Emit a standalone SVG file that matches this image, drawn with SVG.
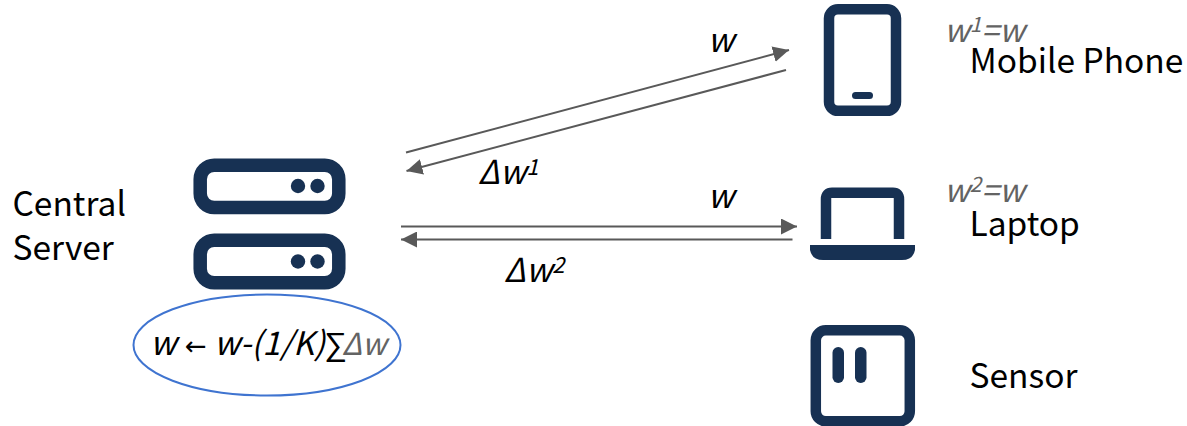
<svg xmlns="http://www.w3.org/2000/svg" width="1187" height="426" viewBox="0 0 1187 426">
<style>
text{font-family:"Noto Sans CJK SC","Noto Sans",sans-serif}
.l{font-size:33.500px;fill:#000}
.m{font-size:33px;font-style:italic;fill:#000}
.g{font-size:32px;font-style:italic;fill:#636363}
.i{fill:none;stroke:#173153;stroke-width:10.500}
.f{fill:#173153}
.s{fill:none;stroke:#173153;stroke-width:13.500}
.c{fill:none;stroke:#595959;stroke-width:2;marker-end:url(#a)}
</style>
<defs><marker id="a" markerUnits="userSpaceOnUse" markerWidth="17" markerHeight="16" refX="16" refY="8" orient="auto"><path d="M0 0L16 8L0 16Z" fill="#595959"/></marker></defs>
<rect width="1187" height="426" fill="#fff"/>
<g id="connectors">
<line class="c" x1="406" y1="152.500" x2="789" y2="50"/>
<line class="c" x1="786" y1="70" x2="406.500" y2="171"/>
<line class="c" x1="401" y1="226.500" x2="797" y2="226.500"/>
<line class="c" x1="792.500" y1="239.500" x2="401" y2="239.500"/>
</g>
<g id="server">
<rect class="s" x="200.200" y="165.200" width="138.600" height="42.400" rx="14"/>
<circle class="f" cx="298" cy="186" r="7.200"/><circle class="f" cx="317.500" cy="186" r="7.200"/>
<rect class="s" x="200.200" y="240.200" width="138.600" height="42.600" rx="14"/>
<circle class="f" cx="298" cy="261.500" r="7.200"/><circle class="f" cx="317.500" cy="261.500" r="7.200"/>
<text class="l" x="12.500" y="216">Central</text>
<text class="l" x="12.500" y="260">Server</text>
</g>
<g id="aggregate">
<ellipse cx="267" cy="345" rx="133.500" ry="50.500" fill="none" stroke="#3f74d0" stroke-width="2"/>
<text x="150" y="355" style="font-size:33px;font-style:italic">w</text>
<text x="185" y="355" style="font-family:'DejaVu Sans',sans-serif;font-size:26px">←</text>
<text x="214" y="355" style="font-size:32.500px;font-style:italic">w-(1/K)</text>
<text x="324" y="355" style="font-family:'Liberation Sans',sans-serif;font-size:32px">∑</text>
<text x="342" y="355" style="font-size:30.500px;font-style:italic;fill:#636363">Δw</text>
</g>
<g id="phone">
<rect class="i" x="829" y="9.300" width="67" height="101.500" rx="9"/>
<rect class="f" x="852" y="92" width="21" height="7" rx="3.500"/>
<text class="g" x="944" y="42">w<tspan font-size="21" dy="-10">1</tspan><tspan dy="10">=w</tspan></text>
<text class="l" x="969.500" y="73">Mobile Phone</text>
</g>
<g id="laptop">
<path class="i" d="M826 239V199Q826 192.700 832 192.700H893Q899 192.700 899 199V239"/>
<path class="f" d="M810 245H915V250Q913 260 902 260H823Q812 260 810 250Z"/>
<text class="g" x="944" y="202">w<tspan font-size="21" dy="-10">2</tspan><tspan dy="10">=w</tspan></text>
<text class="l" x="969.500" y="236">Laptop</text>
</g>
<g id="sensor">
<rect class="i" x="815.800" y="330.300" width="94" height="91" rx="10"/>
<rect class="f" x="832.500" y="347" width="11.500" height="36" rx="5.700"/>
<rect class="f" x="855" y="347" width="11.500" height="36" rx="5.700"/>
<text class="l" x="969.500" y="388">Sensor</text>
</g>
<g id="labels">
<text class="m" x="707.500" y="52">w</text>
<text class="m" x="707.500" y="208">w</text>
<text class="m" x="478" y="184">Δw<tspan font-size="22" dy="-9">1</tspan></text>
<text class="m" x="504" y="282">Δw<tspan font-size="22" dy="-9">2</tspan></text>
</g>
</svg>
